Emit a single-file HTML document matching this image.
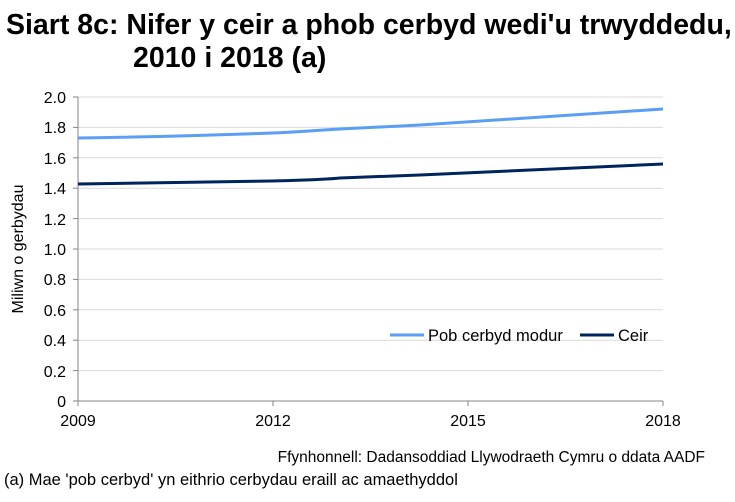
<!DOCTYPE html>
<html><head><meta charset="utf-8"><style>
body{margin:0;background:#fff;font-family:"Liberation Sans",Arial,sans-serif}
</style></head><body>
<svg width="735" height="497" xmlns="http://www.w3.org/2000/svg" font-family="Liberation Sans, Arial, sans-serif">
<text x="6" y="34" font-size="28.5" font-weight="bold" fill="#000">Siart 8c: Nifer y ceir a phob cerbyd wedi'u trwyddedu,</text>
<text x="133" y="67" font-size="28.5" font-weight="bold" fill="#000">2010 i 2018 (a)</text>
<g stroke="#d9d9d9" stroke-width="1">
<line x1="78" y1="97" x2="663" y2="97"/><line x1="78" y1="127.4" x2="663" y2="127.4"/>
<line x1="78" y1="157.8" x2="663" y2="157.8"/><line x1="78" y1="188.2" x2="663" y2="188.2"/>
<line x1="78" y1="218.6" x2="663" y2="218.6"/><line x1="78" y1="249" x2="663" y2="249"/>
<line x1="78" y1="279.4" x2="663" y2="279.4"/><line x1="78" y1="309.8" x2="663" y2="309.8"/>
<line x1="78" y1="340.2" x2="663" y2="340.2"/><line x1="78" y1="370.6" x2="663" y2="370.6"/>
</g>
<g stroke="#868686" stroke-width="1">
<line x1="78" y1="97" x2="78" y2="401"/><line x1="78" y1="401" x2="663" y2="401"/>
<line x1="73" y1="97" x2="78" y2="97"/><line x1="73" y1="127.4" x2="78" y2="127.4"/><line x1="73" y1="157.8" x2="78" y2="157.8"/><line x1="73" y1="188.2" x2="78" y2="188.2"/><line x1="73" y1="218.6" x2="78" y2="218.6"/><line x1="73" y1="249" x2="78" y2="249"/><line x1="73" y1="279.4" x2="78" y2="279.4"/><line x1="73" y1="309.8" x2="78" y2="309.8"/><line x1="73" y1="340.2" x2="78" y2="340.2"/><line x1="73" y1="370.6" x2="78" y2="370.6"/><line x1="73" y1="401" x2="78" y2="401"/>
<line x1="78" y1="401" x2="78" y2="406"/><line x1="273" y1="401" x2="273" y2="406"/><line x1="468" y1="401" x2="468" y2="406"/><line x1="663" y1="401" x2="663" y2="406"/>
</g>
<g font-size="16" fill="#000" text-anchor="end">
<text x="66" y="103">2.0</text><text x="66" y="133">1.8</text><text x="66" y="164">1.6</text><text x="66" y="194">1.4</text><text x="66" y="225">1.2</text><text x="66" y="255">1.0</text><text x="66" y="285">0.8</text><text x="66" y="316">0.6</text><text x="66" y="346">0.4</text><text x="66" y="377">0.2</text><text x="66" y="407">0</text>
</g>
<g font-size="16" fill="#000" text-anchor="middle">
<text x="78" y="426">2009</text><text x="273" y="426">2012</text><text x="468" y="426">2015</text><text x="663" y="426">2018</text>
</g>
<text transform="translate(23,249) rotate(-90)" font-size="16" text-anchor="middle">Miliwn o gerbydau</text>
<path d="M78,138 C150,137 220,135 272,133 C300,132 320,130 340,129 L420,125 L663,109" fill="none" stroke="#5b9ef5" stroke-width="3"/>
<path d="M78,184 C150,183 220,182 272,181 C300,180 320,180 340,178 L420,175 L663,164" fill="none" stroke="#00245e" stroke-width="3"/>
<line x1="390" y1="335" x2="424" y2="335" stroke="#5b9ef5" stroke-width="3"/>
<text x="428" y="341" font-size="16.5">Pob cerbyd modur</text>
<line x1="580" y1="335" x2="614" y2="335" stroke="#00245e" stroke-width="3"/>
<text x="618" y="341" font-size="16.5">Ceir</text>
<text x="705" y="462" font-size="15.5" text-anchor="end">Ffynhonnell: Dadansoddiad Llywodraeth Cymru o ddata AADF</text>
<text x="4" y="485" font-size="16.5">(a) Mae 'pob cerbyd' yn eithrio cerbydau eraill ac amaethyddol</text>
</svg>
</body></html>
